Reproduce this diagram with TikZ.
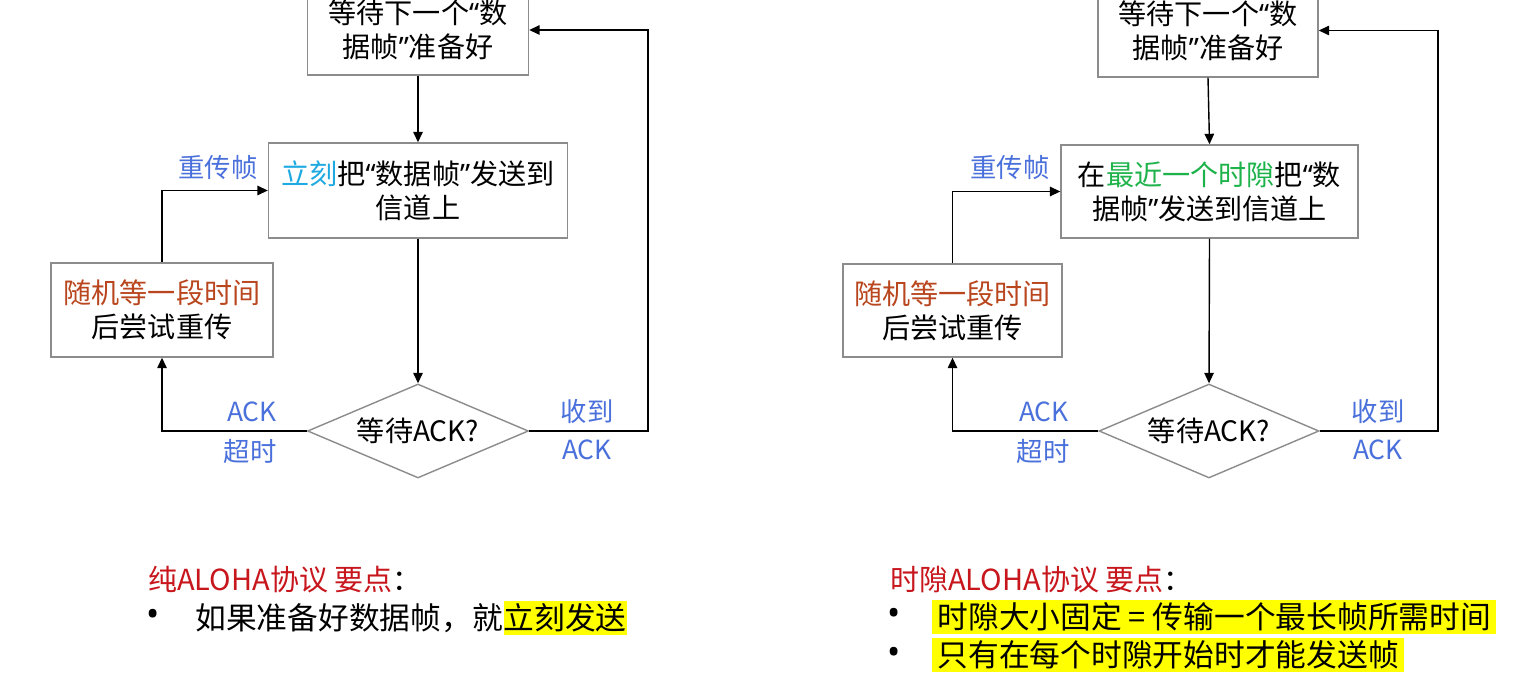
\documentclass[tikz,border=0pt]{standalone}
\usepackage{fontspec}
\setmainfont{Noto Sans CJK SC}
\newfontfamily\qfont{Noto Sans}
\usetikzlibrary{shapes.geometric,arrows.meta}
\definecolor{lblblue}{RGB}{74,112,220}
\definecolor{boxgray}{RGB}{140,140,140}
\definecolor{cyanword}{RGB}{30,169,225}
\definecolor{brownword}{RGB}{185,70,30}
\definecolor{greenword}{RGB}{29,179,74}
\definecolor{titlered}{RGB}{200,22,29}
\definecolor{hlyellow}{RGB}{255,255,0}
\newcommand{\fsbox}{\fontsize{16}{19.5}\selectfont}
\newcommand{\fslbl}{\fontsize{15}{18}\selectfont}
\newcommand{\fsbody}{\fontsize{17.5}{21}\selectfont}
\newcommand{\fstitle}{\fontsize{16.5}{20}\selectfont}
\newcommand{\oq}{{\qfont “}}
\newcommand{\cq}{{\qfont ”}}
\newcommand{\bul}{{\qfont\fontsize{20}{20}\selectfont •}}
\begin{document}
\begin{tikzpicture}[x=0.02cm,y=-0.02cm,
  flowbox/.style={draw=boxgray, line width=0.8pt, rectangle, inner sep=0pt, align=center, font=\fsbox},
  decide/.style={draw=boxgray, line width=0.8pt, diamond, aspect=2.35, inner sep=0pt, font=\fsbox},
  arr/.style={draw=black, line width=0.8pt, -{Triangle[length=0.21cm,width=0.19cm]}},
  lbl/.style={text=lblblue, font=\fslbl, inner sep=0pt},
  ttl/.style={anchor=west, inner sep=0pt, font=\fstitle},
  bodytxt/.style={anchor=west, inner sep=0pt, font=\fsbody},
  hl/.style={fill=hlyellow, inner xsep=3pt, inner ysep=0pt, minimum height=0.68cm}
]
\useasboundingbox (0,0) rectangle (1523,678);
\fill[white] (0,0) rectangle (1523,678);

% ---------------- left diagram ----------------
\node[flowbox, minimum width=4.42cm, minimum height=1.8cm] (b1) at (418,30) {等待下一个\oq 数\\据帧\cq 准备好};
\node[flowbox, minimum width=5.98cm, minimum height=1.9cm] (b2) at (418,190.5) {\textcolor{cyanword}{立刻}把\oq 数据帧\cq 发送到\\信道上};
\node[flowbox, minimum width=4.44cm, minimum height=1.88cm] (b3) at (162,310) {\textcolor{brownword}{随机等一段时间}\\后尝试重传};
\node[decide, minimum width=4.42cm, minimum height=1.88cm] (d1) at (418,431) {等待ACK?};
\coordinate (r1) at (648,431);

\draw[arr] (b1.south) -- (b2.north);
\draw[arr] (b2.south) -- (d1.north);
\draw[arr] (d1.west) -| (b3.south);
\draw[arr] (b3.north) |- (b2.west);
\draw[arr] (d1.east) -- (r1) |- (b1.east);

\node[lbl] (l1) at (218,168) {重传帧};
\node[lbl] (l2) at (252,412) {ACK};
\node[lbl] (l3) at (250,451) {超时};
\node[lbl] (l4) at (587,411) {收到};
\node[lbl] (l5) at (587,450) {ACK};

\node[ttl] (t1) at (148,580) {\textcolor{titlered}{纯ALOHA协议 要点}：};
\node[bodytxt] (bl1) at (146,618) {\bul};
\node[bodytxt] (p1) at (195,618) {如果准备好数据帧，就};
\node[bodytxt, hl, inner xsep=0pt, anchor=west] (p1h) at (p1.east) {立刻发送};

% ---------------- right diagram ----------------
\node[flowbox, minimum width=4.4cm, minimum height=1.86cm] (c1) at (1208,30.5) {等待下一个\oq 数\\据帧\cq 准备好};
\node[flowbox, minimum width=5.94cm, minimum height=1.86cm] (c2) at (1209.5,191.5) {在\textcolor{greenword}{最近一个时隙}把\oq 数\\据帧\cq 发送到信道上};
\node[flowbox, minimum width=4.38cm, minimum height=1.86cm] (c3) at (952.5,310.5) {\textcolor{brownword}{随机等一段时间}\\后尝试重传};
\node[decide, minimum width=4.4cm, minimum height=1.88cm] (d2) at (1209,431) {等待ACK?};
\coordinate (r2) at (1438,431);

\draw[arr] (c1.south) -- (c2.north);
\draw[arr] (c2.south) -- (d2.north);
\draw[arr] (d2.west) -| (c3.south);
\draw[arr] (c3.north) |- (c2.west);
\draw[arr] (d2.east) -- (r2) |- (c1.east);

\node[lbl] (m1) at (1010,168) {重传帧};
\node[lbl] (m2) at (1044,412) {ACK};
\node[lbl] (m3) at (1043,451) {超时};
\node[lbl] (m4) at (1378,411) {收到};
\node[lbl] (m5) at (1378,450) {ACK};

\node[ttl] (t2) at (890,580) {\textcolor{titlered}{时隙ALOHA协议 要点}：};
\node[bodytxt] (bl2) at (887,617) {\bul};
\node[bodytxt] (bl3) at (887,656) {\bul};
\node[bodytxt, hl] (q1) at (932,617) {时隙大小固定 = 传输一个最长帧所需时间};
\node[bodytxt, hl] (q2) at (932,655) {只有在每个时隙开始时才能发送帧};
\end{tikzpicture}
\end{document}
